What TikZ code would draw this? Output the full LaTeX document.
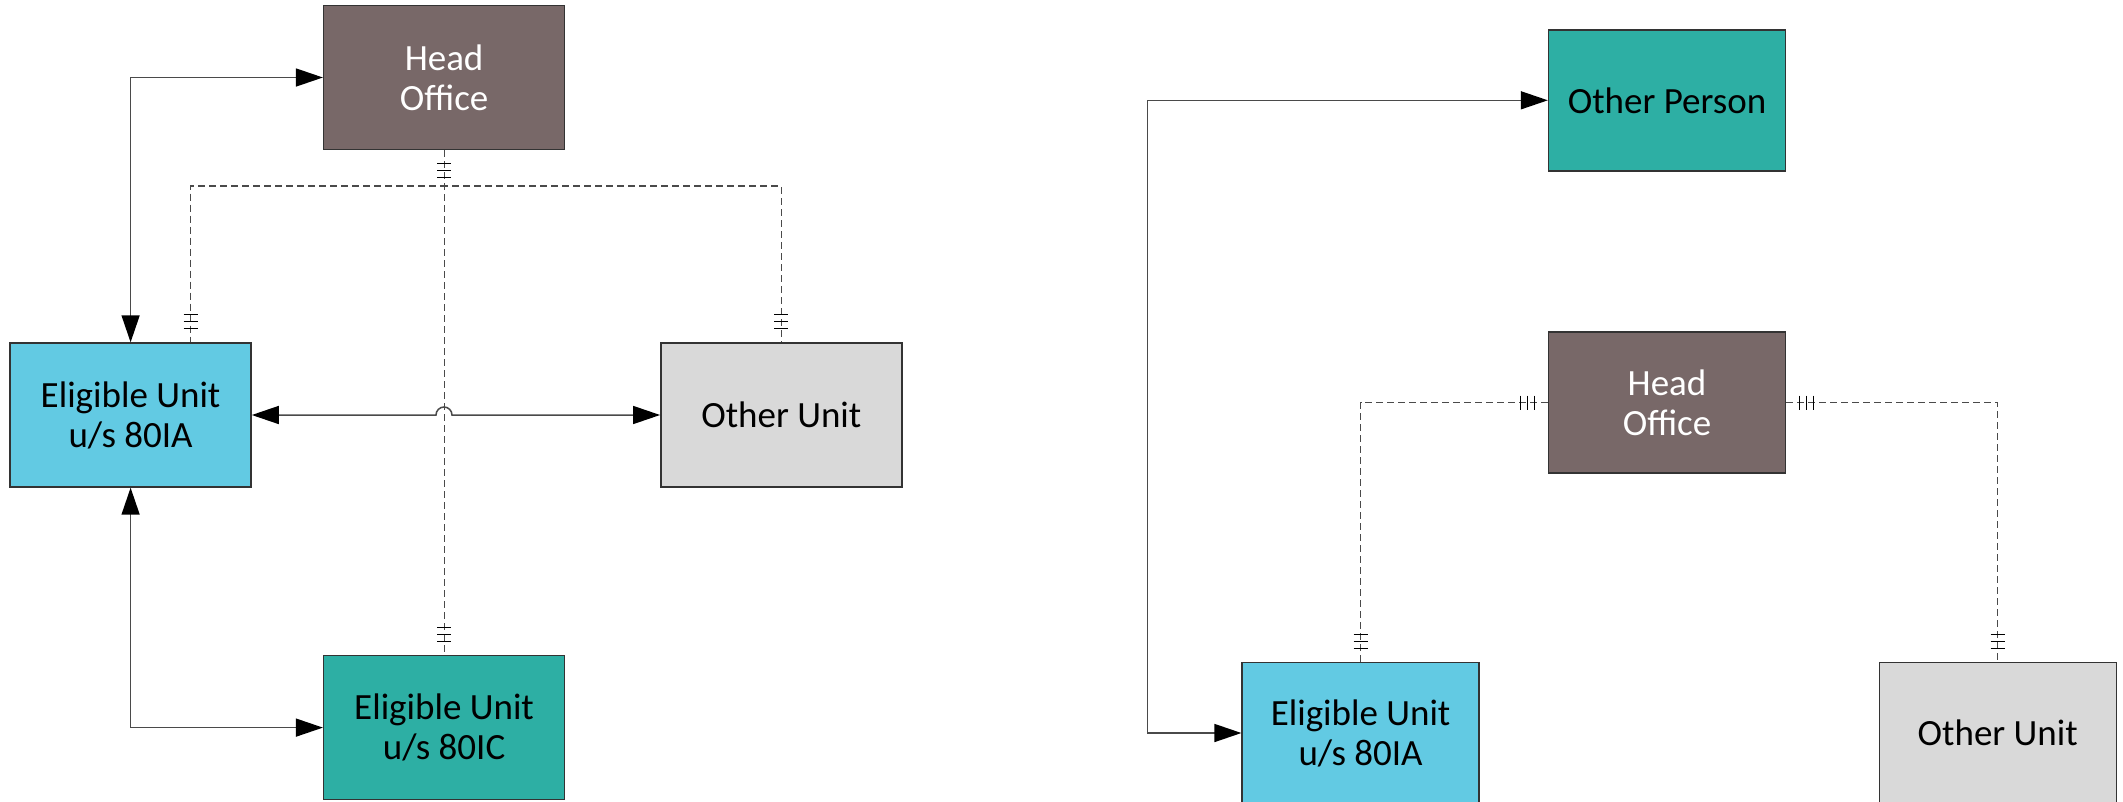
\documentclass[tikz,border=0pt]{standalone}
\usepackage{fontspec}
\setmainfont{Carlito}
\usetikzlibrary{arrows.meta,calc}

\definecolor{hoBrown}{HTML}{786868}
\definecolor{unitBlue}{HTML}{62CAE3}
\definecolor{unitTeal}{HTML}{2DAFA4}
\definecolor{unitGray}{HTML}{D9D9D9}
\definecolor{edgeGray}{HTML}{333333}
\definecolor{wireGray}{HTML}{4A4A4A}

% three short cross bars on a connector end, perpendicular to it
\newcommand\barsAlongY[2]{%
  \foreach \dd in {13.5,20.5,27.5}{\draw[barline] ($(#1)+(-7,#2\dd)$) -- ++(14,0);}}
\newcommand\barsAlongX[2]{%
  \foreach \dd in {13.5,20.5,27.5}{\draw[barline] ($(#1)+(#2\dd,-7)$) -- ++(0,14);}}

\begin{document}
\begin{tikzpicture}[x=1pt,y=-1pt,
  entity/.style={draw=edgeGray,line width=1.4pt,minimum width=241pt,minimum height=144pt,
    inner sep=0pt,align=center,font=\fontsize{37}{40}\selectfont,text=black},
  entitysm/.style={entity,minimum width=237pt,minimum height=141pt},
  flow/.style={draw=wireGray,line width=1.5pt,
    {Triangle[length=27pt,width=18pt,color=black]}-{Triangle[length=27pt,width=18pt,color=black]}},
  dline/.style={draw=wireGray,line width=1.1pt,dash pattern=on 7pt off 4pt},
  barline/.style={draw=black,line width=1.1pt}]

\useasboundingbox (0,0) rectangle (2123,801);

% ---------- group structure ----------
\node[entity,fill=hoBrown,text=white] (ho1) at (444.1,77.5) {Head\\Office};
\node[entity,fill=unitBlue] (eu1) at (130.6,415) {Eligible Unit\\u/s 80IA};
\node[entity,fill=unitGray] (ou1) at (781.3,415) {Other Unit};
\node[entity,fill=unitTeal] (ic1) at (444.1,727.6) {Eligible Unit\\u/s 80IC};

\coordinate (l1) at (190.5,186);
\coordinate (r1) at (781.3,186);
\coordinate (hopL) at (436,415);

% transactions between units
\draw[flow] (ho1.west) -| (eu1.north);
\draw[flow] (eu1.south) |- (ic1.west);
\draw[flow] (eu1.east) -- (hopL) arc[start angle=180,end angle=0,radius=8pt] -- (ou1.west);

% common control links
\draw[dline] (ho1.south) -- (ic1.north);
\draw[dline] (ho1.south) |- (l1) -- (l1 |- eu1.north);
\draw[dline] (ho1.south) |- (r1) -- (ou1.north);

\barsAlongY{ho1.south}{+}
\barsAlongY{l1 |- eu1.north}{-}
\barsAlongY{ou1.north}{-}
\barsAlongY{ic1.north}{-}

% ---------- other person ----------
\node[entitysm,fill=unitTeal] (op) at (1667,100.3) {Other Person};
\node[entitysm,fill=hoBrown,text=white] (ho2) at (1667,402.5) {Head\\Office};
\node[entitysm,fill=unitBlue] (eu2) at (1360.6,733) {Eligible Unit\\u/s 80IA};
\node[entitysm,fill=unitGray] (ou2) at (1997.7,733) {Other Unit};

\coordinate (k1) at (1147.5,100.3);

\draw[flow] (op.west) -- (k1) |- (eu2.west);

\draw[dline] (ho2.west) -| (eu2.north);
\draw[dline] (ho2.east) -| (ou2.north);

\barsAlongX{ho2.west}{-}
\barsAlongX{ho2.east}{+}
\barsAlongY{eu2.north}{-}
\barsAlongY{ou2.north}{-}

\end{tikzpicture}
\end{document}
